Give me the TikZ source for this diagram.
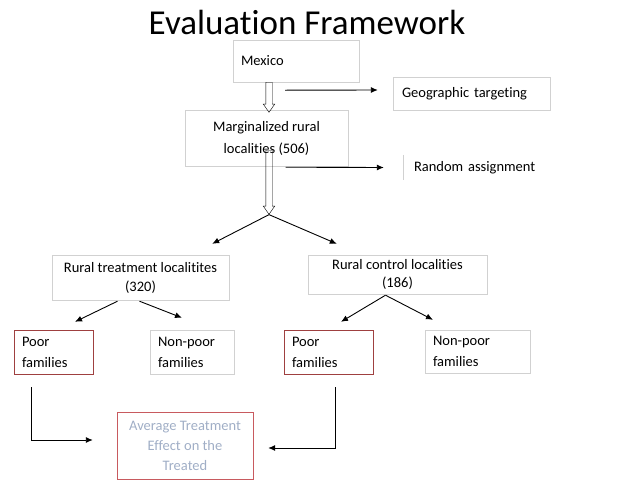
\documentclass[tikz,border=0pt]{standalone}
\usepackage{fontspec}
\setmainfont{Carlito}[Ligatures=NoCommon]
\usetikzlibrary{arrows.meta,shapes.arrows}
\definecolor{atetext}{RGB}{160,174,198}
\definecolor{atered}{RGB}{200,90,95}

\begin{document}
\begin{tikzpicture}[x=1pt, y=-1pt,
    box/.style = {draw=black!18, inner sep=0pt, font=\fontsize{14.5}{21}\selectfont},
    redbox/.style = {box, draw=red!50!black!75},
    flow/.style = {-{Latex[length=7pt,width=6pt]}, line width=0.9pt},
    hollow/.style = {draw, single arrow, rotate=-90, inner xsep=0pt, inner ysep=3pt, single arrow head extend=2.5pt, single arrow tip angle=70, single arrow head indent=0pt},]
	\useasboundingbox (0,0) rectangle (640,480);
	\node (title) at (307,22) {\fontsize{35}{40}\selectfont Evaluation Framework};

	\node[box, minimum width=126, minimum height=42, text width=110, align=left] (mexico) at (296,61) {Mexico};
	\node[box, minimum width=157, minimum height=33, text width=139, align=left] (geo) at (471.5,93.5) {Geographic targeting};
	\node[box, minimum width=163, minimum height=56, font=\fontsize{14.5}{22}\selectfont, align=center] (marg) at (266.5,138) {Marginalized rural\\localities (506)};
	\node[inner sep=0pt, minimum width=147, minimum height=25, text width=125, align=left, font=\fontsize{14.5}{21}\selectfont] (rand) at (476.5,167.5) {Random assignment};
	\draw[draw=black!18] (rand.north west) -- (rand.south west);

	\node[hollow, minimum height=30] (down1) at (269,95) {};
	\node[hollow, minimum height=64] (down2) at (269,180) {};
	\coordinate (fork) at (down2.tip);

	\node[box, minimum width=177, minimum height=45, font=\fontsize{14.5}{19}\selectfont, align=center] (treat) at (140.5,277.5) {Rural treatment localitites\\(320)};
	\node[box, minimum width=179, minimum height=39, font=\fontsize{14.5}{18}\selectfont, align=center] (ctrl) at (397.5,274.5) {Rural control localities\\(186)};

	\node[redbox, minimum width=79, minimum height=44, text width=63, align=left] (poorL) at (53.5,352) {Poor\\families};
	\node[box, minimum width=84, minimum height=44, text width=68, align=left] (nonpL) at (192,352) {Non-poor\\families};
	\node[redbox, minimum width=89, minimum height=44, text width=73, align=left] (poorR) at (328.5,352) {Poor\\families};
	\node[box, minimum width=105, minimum height=43, text width=89, align=left] (nonpR) at (477.5,351.5) {Non-poor\\families};

	\node[box, draw=atered, minimum width=136, minimum height=67, font=\fontsize{14.5}{20}\selectfont, text=atetext, align=center] (ate) at (185,445.5) {Average Treatment\\Effect on the\\Treated};

	\draw[flow] ([shift={(-11,8)}]mexico.south) -- ([shift={(-15,-3.5)}]geo.west);
	\draw[flow] ([shift={(19,1)}]marg.south) -- ([shift={(-19,0)}]rand.west);

	\draw[flow] (fork) -- ([shift={(-17,-11)}]treat.north east);
	\draw[flow] (fork) -- ([shift={(29,-11)}]ctrl.north west);

	\draw[flow] ([shift={(-23,1)}]treat.south) -- ([shift={(21.5,-8)}]poorL.north);
	\draw[flow] ([shift={(-1,1)}]treat.south) -- ([shift={(-10,-12)}]nonpL.north);
	\draw[flow] ([shift={(-12,1)}]ctrl.south) -- ([shift={(12.5,-8)}]poorR.north);
	\draw[flow] ([shift={(-12,1)}]ctrl.south) -- ([shift={(-44.5,-10)}]nonpR.north);

	\draw[flow] ([shift={(-22.5,13)}]poorL.south) |- ([shift={(-24,-5.5)}]ate.west);
	\draw[flow] ([shift={(6.5,13)}]poorR.south) |- ([shift={(15,2.5)}]ate.east);
\end{tikzpicture}
\end{document}
